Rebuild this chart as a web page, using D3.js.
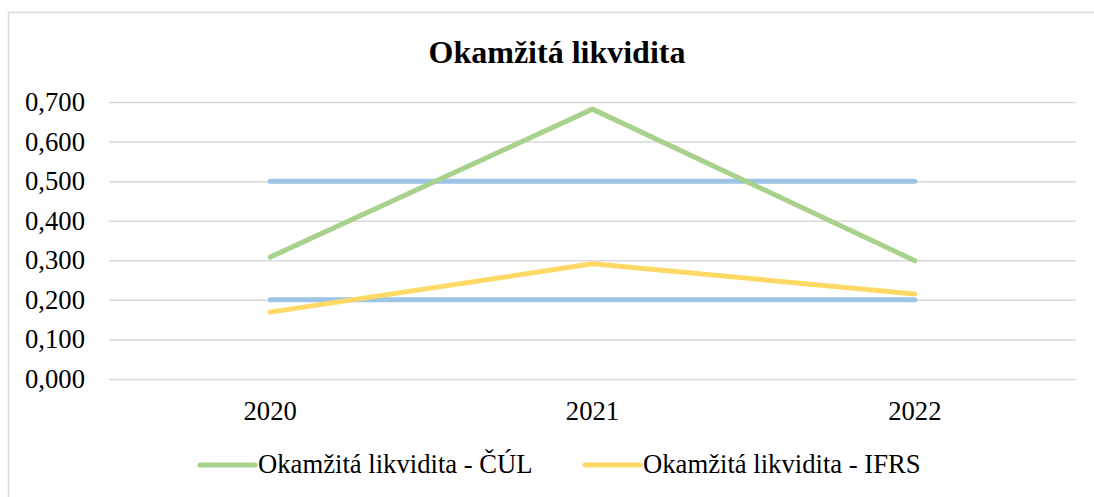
<!DOCTYPE html>
<html>
<head>
<meta charset="utf-8">
<script src="https://cdn.jsdelivr.net/npm/d3@7"></script>
<style>
  html, body { margin: 0; padding: 0; background: #fff; }
  svg text { font-family: "Liberation Serif", "Times New Roman", serif; fill: #000; }
</style>
</head>
<body>
<div id="chart"></div>
<script>
  var years = ['2020', '2021', '2022'];
  var culValues = [0.308, 0.682, 0.299];
  var ifrsValues = [0.169, 0.291, 0.215];
  var upperBound = [0.5, 0.5, 0.5];
  var lowerBound = [0.2, 0.2, 0.2];
  var yTicks = [0, 0.1, 0.2, 0.3, 0.4, 0.5, 0.6, 0.7];
  var legendLabels = ['Okamžitá likvidita - ČÚL', 'Okamžitá likvidita - IFRS'];

  var width = 1094;
  var height = 497;
  var plot = { left: 109, right: 1076, top: 102, bottom: 379 };
  var serif = '"Liberation Serif", "Times New Roman", serif';

  var svg = d3.select('#chart')
    .append('svg')
    .attr('width', width)
    .attr('height', height)
    .style('font-family', serif);

  // Outer chart border.
  svg.append('rect')
    .attr('x', 8.5)
    .attr('y', 12.5)
    .attr('width', 1100)
    .attr('height', 500)
    .attr('fill', 'none')
    .attr('stroke', '#d9d9d9')
    .attr('stroke-width', 1.5);

  var xScale = d3.scaleBand().domain(years).range([plot.left, plot.right]);
  var yScale = d3.scaleLinear().domain([0, 0.7]).range([plot.bottom, plot.top]);

  function xPos(d) { return xScale(d) + xScale.bandwidth() / 2; }

  var fmt = function(v) { return d3.format('.3f')(v).replace('.', ','); };

  var yAxis = d3.axisLeft(yScale)
    .tickValues(yTicks)
    .tickFormat(fmt)
    .tickSize(-(plot.right - plot.left))
    .tickPadding(24);

  var yG = svg.append('g')
    .attr('transform', 'translate(' + plot.left + ',0)')
    .call(yAxis);
  yG.select('.domain').remove();
  yG.selectAll('line').attr('stroke', '#d9d9d9').attr('stroke-width', 1.5);
  yG.selectAll('text').style('font-size', '26.67px').style('font-family', serif);

  var xAxis = d3.axisBottom(xScale).tickSize(0).tickPadding(22);
  var xG = svg.append('g')
    .attr('transform', 'translate(0,' + plot.bottom + ')')
    .call(xAxis);
  xG.select('.domain').remove();
  xG.selectAll('text').style('font-size', '26.67px').style('font-family', serif);

  var line = d3.line()
    .x(function(d, i) { return xPos(years[i]); })
    .y(function(d) { return yScale(d); });

  var series = [
    { values: upperBound, color: '#9dc3e6' },
    { values: lowerBound, color: '#9dc3e6' },
    { values: culValues, color: '#a9d18e' },
    { values: ifrsValues, color: '#ffd966' }
  ];

  svg.selectAll('.series')
    .data(series)
    .enter().append('path')
    .attr('class', 'series')
    .attr('d', function(d) { return line(d.values); })
    .attr('fill', 'none')
    .attr('stroke', function(d) { return d.color; })
    .attr('stroke-width', 5)
    .attr('stroke-linecap', 'round')
    .attr('stroke-linejoin', 'round');

  // Title.
  svg.append('text')
    .attr('x', 557)
    .attr('y', 62.5)
    .attr('text-anchor', 'middle')
    .style('font-family', serif)
    .style('font-size', '32px')
    .style('font-weight', 'bold')
    .text('Okamžitá likvidita');

  // Legend.
  var legend = [
    { label: legendLabels[0], color: '#a9d18e', x: 200 },
    { label: legendLabels[1], color: '#ffd966', x: 585 }
  ];
  var lg = svg.selectAll('.legend')
    .data(legend)
    .enter().append('g')
    .attr('class', 'legend')
    .attr('transform', function(d) { return 'translate(' + d.x + ',465)'; });
  lg.append('line')
    .attr('x1', 0).attr('x2', 55)
    .attr('y1', 0).attr('y2', 0)
    .attr('stroke', function(d) { return d.color; })
    .attr('stroke-width', 5)
    .attr('stroke-linecap', 'round');
  lg.append('text')
    .attr('x', 58)
    .attr('y', 8)
    .style('font-family', serif)
    .style('font-size', '26.67px')
    .text(function(d) { return d.label; });
</script>
</body>
</html>
